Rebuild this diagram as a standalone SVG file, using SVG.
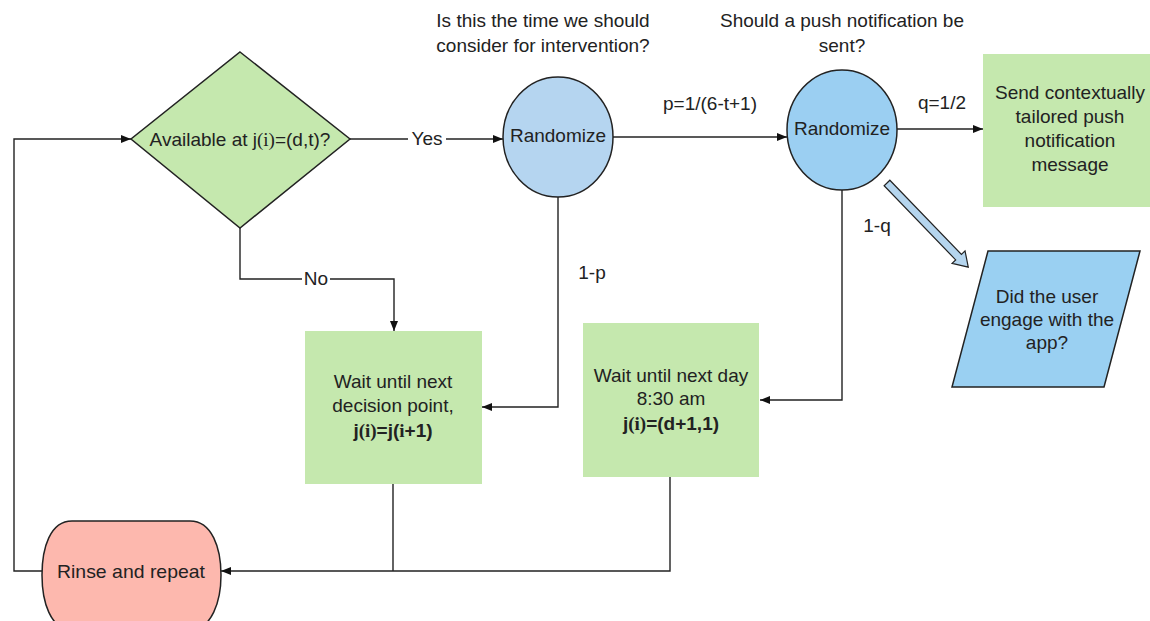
<svg xmlns="http://www.w3.org/2000/svg" width="1150" height="621" viewBox="0 0 1150 621">
<defs>
<marker id="ah" viewBox="0 0 10 10" refX="10" refY="5" markerWidth="10" markerHeight="10" markerUnits="userSpaceOnUse" orient="auto">
<path d="M0,1 L10,5 L0,9 Z" fill="#111"/>
</marker>
</defs>
<style>
text{font-family:"Liberation Sans",Arial,sans-serif;font-size:19px;fill:#222;text-anchor:middle;dominant-baseline:central}
.ser{font-family:"Liberation Serif","Times New Roman",serif}
.b{font-weight:bold}
.c{fill:none;stroke:#222;stroke-width:1.4}
.g{fill:#c5e8ae}
.sh{stroke:#222;stroke-width:1.5}
</style>
<rect width="1150" height="621" fill="#fff"/>
<g id="connectors">
<path class="c" d="M42,571 H14 V139 H131" marker-end="url(#ah)"/>
<path class="c" d="M350,139 H503" marker-end="url(#ah)"/>
<path class="c" d="M613,137 H787" marker-end="url(#ah)"/>
<path class="c" d="M897,129 H983" marker-end="url(#ah)"/>
<path class="c" d="M240,228 V279 H394 V331" marker-end="url(#ah)"/>
<path class="c" d="M558,197 V407 H482" marker-end="url(#ah)"/>
<path class="c" d="M842,190 V400 H760" marker-end="url(#ah)"/>
<path class="c" d="M393,484 V571"/>
<path class="c" d="M670,477 V571 H221" marker-end="url(#ah)"/>
<polygon points="0,-4 103,-4 103,-9 117,0 103,9 103,4 0,4" transform="translate(887,183) rotate(46)" fill="#b5d5ee" stroke="#222" stroke-width="1.2"/>
<rect x="408" y="128" width="38" height="22" fill="#fff"/>
<text x="427" y="138">Yes</text>
<rect x="302" y="268" width="28" height="22" fill="#fff"/>
<text x="316" y="278">No</text>
<text x="710" y="103">p=1/(6-t+1)</text>
<text x="942" y="102">q=1/2</text>
<text x="592" y="272">1-p</text>
<text x="877" y="225">1-q</text>
</g>
<g id="labels">
<text x="543" y="20">Is this the time we should</text>
<text x="543" y="45">consider for intervention?</text>
<text x="842" y="20">Should a push notification be</text>
<text x="842" y="45">sent?</text>
</g>
<g id="available">
<polygon class="g sh" points="240,52 350,139 240,228 131,139"/>
<text x="240" y="139">Available at j<tspan class="ser">(i)</tspan>=(d,t)?</text>
</g>
<g id="randomize1">
<ellipse cx="558" cy="137" rx="55" ry="60" fill="#b5d5f0" class="sh"/>
<text x="558" y="135">Randomize</text>
</g>
<g id="randomize2">
<ellipse cx="842" cy="130" rx="55" ry="60" fill="#9bcff2" class="sh"/>
<text x="842" y="128">Randomize</text>
</g>
<g id="send">
<rect x="983" y="54" width="167" height="153" class="g"/>
<text x="1070" y="92">Send contextually</text>
<text x="1070" y="116">tailored push</text>
<text x="1070" y="140">notification</text>
<text x="1070" y="164">message</text>
</g>
<g id="engage">
<polygon points="988,251 1140,251 1104,387 952,387" fill="#9ad0f2" class="sh"/>
<text x="1047" y="296">Did the user</text>
<text x="1047" y="319">engage with the</text>
<text x="1047" y="342">app?</text>
</g>
<g id="wait1">
<rect x="305" y="331" width="177" height="153" class="g"/>
<text x="393" y="381">Wait until next</text>
<text x="393" y="405">decision point,</text>
<text x="393" y="430" class="b">j<tspan class="ser">(i)</tspan>=j(<tspan class="ser">i</tspan>+1)</text>
</g>
<g id="wait2">
<rect x="583" y="323" width="176" height="154" class="g"/>
<text x="671" y="375">Wait until next day</text>
<text x="671" y="398">8:30 am</text>
<text x="671" y="423" class="b">j<tspan class="ser">(i)</tspan>=(d+1,1)</text>
</g>
<g id="rinse">
<path d="M72,521 H190 C212,521 221,548 221,575 C221,602 212,628 190,632 H72 C50,628 42,602 42,575 C42,548 50,521 72,521 Z" fill="#fdb8ae" class="sh"/>
<text x="131" y="571" textLength="148" lengthAdjust="spacingAndGlyphs" style="font-size:19px">Rinse and repeat</text>
</g>
</svg>
